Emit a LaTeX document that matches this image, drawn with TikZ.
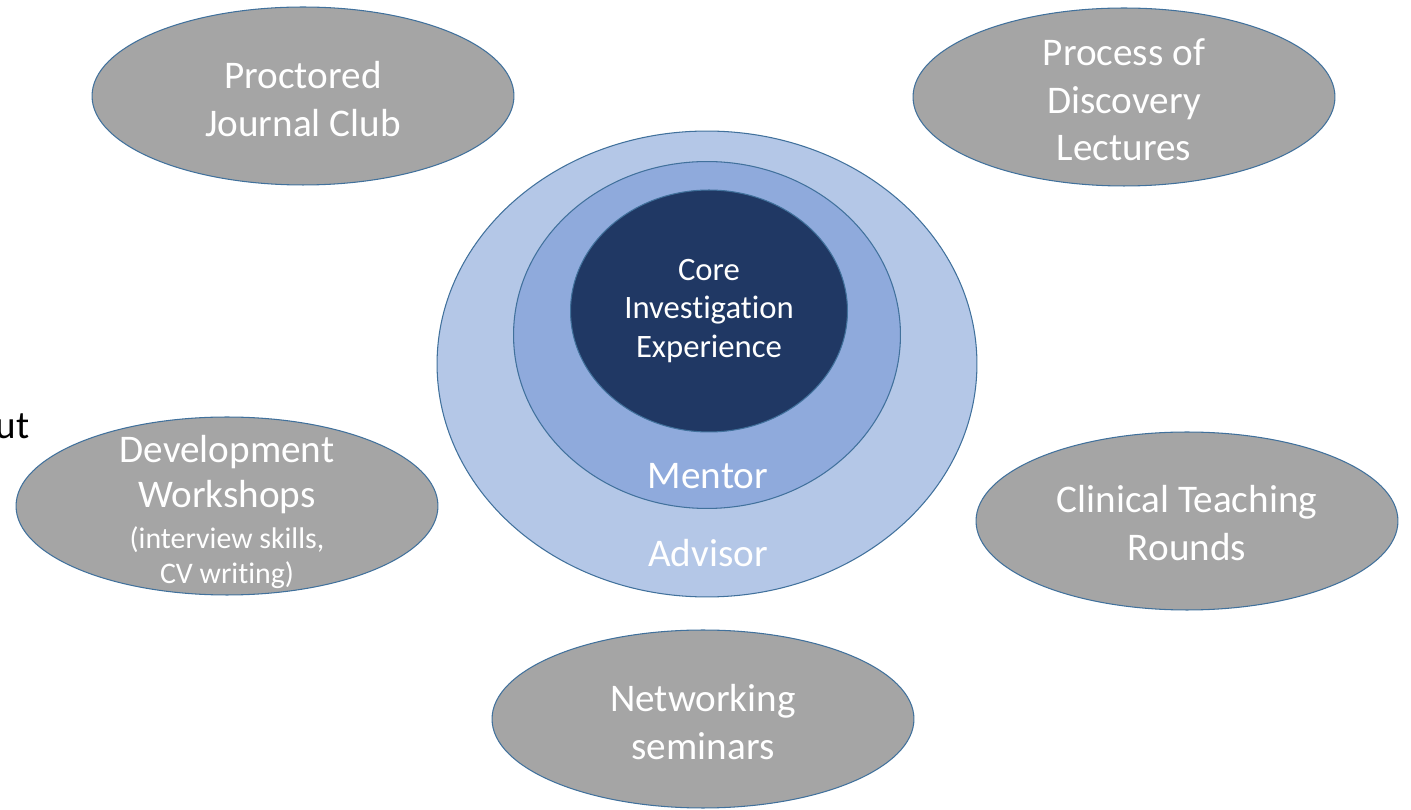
\documentclass[tikz,border=0pt]{standalone}
\usepackage{fontspec}
\setmainfont{Carlito}[Ligatures=NoCommon]
\usetikzlibrary{shapes.geometric}
\definecolor{rim}{HTML}{41719C}
\definecolor{pebblegray}{HTML}{A5A5A5}
\definecolor{advisorblue}{HTML}{B4C7E7}
\definecolor{mentorblue}{HTML}{8FAADC}
\definecolor{coreblue}{HTML}{203864}
\newcommand{\bigtxt}{\fontsize{22.3pt}{27pt}\selectfont}
\newcommand{\coretxt}{\fontsize{18.6pt}{21.9pt}\selectfont}
\newcommand{\smalltxt}{\fontsize{17pt}{20pt}\selectfont}
\begin{document}
\begin{tikzpicture} [x=0.02cm,y=-0.02cm, % ------ one pixel per unit -----
    ring/.style={ellipse, draw=rim, line width=0.6pt, inner sep=0pt},
    pebble/.style={ring, fill=pebblegray, minimum width=8.44cm, minimum height=3.56cm},
    words/.style={text=white, align=center, font=\bigtxt}]
    \useasboundingbox (0,0) rectangle (1411,810);
    % ------ rings -----------------------------
    \node [ring, fill=advisorblue, minimum width=10.8cm, minimum height=9.32cm] (advisor) at (707,364) {};
    \node [ring, fill=mentorblue, minimum width=7.74cm, minimum height=6.94cm] (mentor) at (707,335) {};
    \node [ring, fill=coreblue, minimum width=5.54cm, minimum height=4.84cm] (core) at (709,311) {};
    \node [words, font=\coretxt] (core-t) at (core) {Core\\Investigation\\Experience};
    \node [words] (mentor-t) at (708,476) {Mentor};
    \node [words] (advisor-t) at (708,553) {Advisor};
    % ------ pebbles -----------------------------
    \node [pebble] (pjc) at (303,96) {};
    \node [pebble] (pod) at (1124,97) {};
    \node [pebble] (dws) at (227,506) {};
    \node [pebble] (ctr) at (1187,521) {};
    \node [pebble] (nws) at (703,719) {};
    \node [words] (pjc-t) at (303,99) {Proctored\\Journal Club};
    \node [words] (pod-t) at (1124,100) {Process of\\Discovery\\Lectures};
    \node [words] (dws-t) at (227,512) {Development\\[-1.4pt]Workshops\\[-4pt]{\smalltxt (interview skills,}\\[-7pt]{\smalltxt CV writing)}};
    \node [words] (ctr-t) at (1187,523) {Clinical Teaching\\Rounds};
    \node [words] (nws-t) at (703,722) {Networking\\seminars};
    \node [font=\bigtxt, anchor=east, inner sep=0pt] (cut) at (30,426) {ut};
\end{tikzpicture}
\end{document}
